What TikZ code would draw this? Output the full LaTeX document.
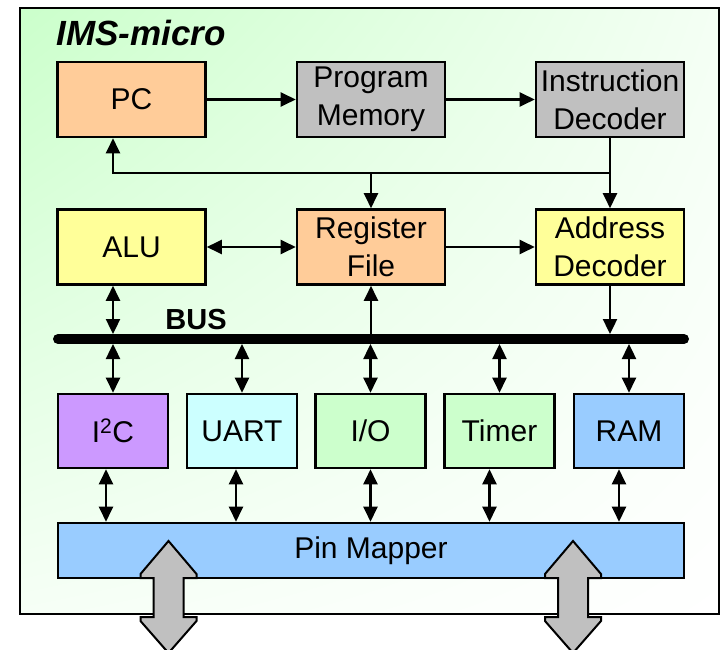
\documentclass[tikz,border=0pt]{standalone}
\usepackage{fontspec}
\setmainfont{Liberation Sans}
\usetikzlibrary{arrows.meta,calc,shadings}
\definecolor{peach}{HTML}{FFCC99}
\definecolor{grayb}{HTML}{C0C0C0}
\definecolor{yel}{HTML}{FFFF99}
\definecolor{purp}{HTML}{CC99FF}
\definecolor{cyanb}{HTML}{CCFFFF}
\definecolor{greenb}{HTML}{CCFFCC}
\definecolor{blueb}{HTML}{99CCFF}
\definecolor{bgUL}{RGB}{203,255,203}
\definecolor{bgLL}{RGB}{246,255,246}
\definecolor{bgUR}{RGB}{244,255,244}
\tikzset{
  blk/.style={draw=black, line width=2.6pt, inner sep=0pt, align=center,
    font=\fontsize{30}{38}\selectfont},
  bigbox/.style={blk, minimum width=148pt, minimum height=75pt},
  smallbox/.style={blk, minimum width=110pt, minimum height=74pt},
  tip/.tip={Triangle[length=15pt,width=14pt]},
  conn/.style={line width=2.4pt, -tip},
  dconn/.style={line width=2.4pt, tip-tip},
  bigarrow/.style={draw=black, fill=grayb, line width=2pt, line join=miter},
}
\begin{document}
\begin{tikzpicture}[x=1pt,y=-1pt]
\useasboundingbox (0,0) rectangle (723,650);
% frame with gradient
\shade[upper left=bgUL, lower left=bgLL, upper right=bgUR, lower right=white] (20,8) rectangle (719,614);
\draw[line width=2pt] (20,8) rectangle (719,614);
\node[font=\fontsize{35}{40}\selectfont\bfseries\itshape, anchor=west] (title) at (53,33) {IMS-micro};
% top row
\node[bigbox, fill=peach] (pc) at (131.5,99.5) {PC};
\node[bigbox, fill=grayb] (pm) at (371,99.5) {Program\\Memory};
\node[bigbox, fill=grayb] (id) at (610,99.5) {Instruction\\Decoder};
% middle row
\node[bigbox, fill=yel] (alu) at (131.5,247) {ALU};
\node[bigbox, fill=peach] (rf) at (371,247) {Register\\File};
\node[bigbox, fill=yel] (ad) at (610,247) {Address\\Decoder};
% bottom row
\node[smallbox, fill=purp] (i2c) at (113,431) {I\textsuperscript{2}C};
\node[smallbox, fill=cyanb] (uart) at (242,431) {UART};
\node[smallbox, fill=greenb] (io) at (370.5,431) {I/O};
\node[smallbox, fill=greenb] (tim) at (499.5,431) {Timer};
\node[smallbox, fill=blueb] (ram) at (629,431) {RAM};
\node[blk, fill=blueb, minimum width=626pt, minimum height=55pt] (pmap) at (371,550.5) {Pin Mapper};
% bus
\coordinate (busL) at (58,339);
\coordinate (busR) at (684,339);
\coordinate (bt) at (0,334);
\coordinate (bb) at (0,344);
\draw[line width=10pt, line cap=round] (busL) -- (busR);
\node[font=\fontsize{29}{32}\selectfont\bfseries] (buslabel) at (196,320) {BUS};
% top connections
\draw[conn] (pc) -- (pm);
\draw[conn] (pm) -- (id);
\coordinate (j) at (610,173);
\coordinate (k) at (113,173);
\draw[conn] (id) -- (ad);
\draw[conn] (j) -- (k) -- (k |- pc.south);
\draw[conn] (j -| rf) -- (rf.north);
\draw[dconn] (alu) -- (rf);
\draw[conn] (rf) -- (ad);
% bus connections
\draw[dconn] (alu.south -| k) -- (k |- bt);
\draw[conn] (rf.south |- busL) -- (rf.south);
\draw[conn] (ad.south) -- (ad.south |- bt);
\foreach \b in {i2c,uart,io,tim,ram}{
  \draw[dconn] (\b.north |- bb) -- (\b.north);
}
\foreach \b/\s in {i2c/-7,uart/-6,io/0,tim/-10,ram/-10}{
  \draw[dconn] ([xshift=\s pt]\b.south) -- ([xshift=\s pt]\b.south |- pmap.north);
}
% big arrows
\foreach \cx in {168.5,573}{
  \draw[bigarrow] (\cx,541) -- (\cx+28,574) -- (\cx+28,578) -- (\cx+15,578) -- (\cx+15,617)
    -- (\cx+28,617) -- (\cx+28,621) -- (\cx,653) -- (\cx-28,621) -- (\cx-28,617) -- (\cx-15,617)
    -- (\cx-15,578) -- (\cx-28,578) -- (\cx-28,574) -- cycle;
}
\end{tikzpicture}
\end{document}
